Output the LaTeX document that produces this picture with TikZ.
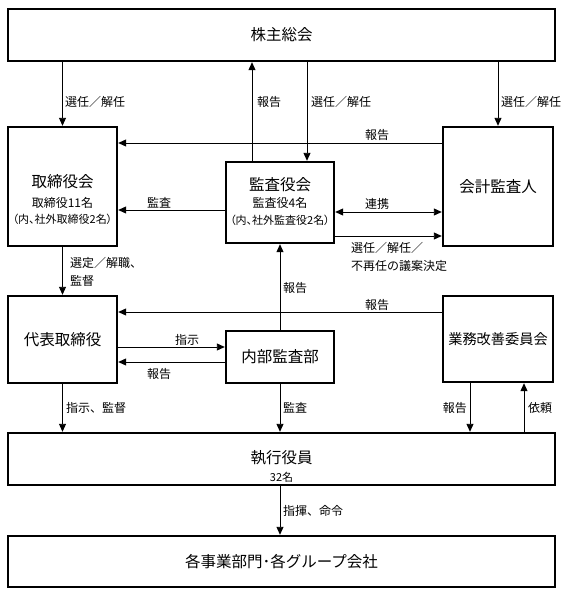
\documentclass[tikz,border=0pt]{standalone}
\usepackage{fontspec}
\setmainfont{Noto Sans CJK JP}
\newfontfamily\jpp{Noto Sans CJK JP}[RawFeature=+palt]
\usetikzlibrary{arrows.meta,calc}
\begin{document}
\begin{tikzpicture}[x=1pt,y=-1pt,
  box/.style={draw, line width=2.4pt, inner sep=0pt, font=\fontsize{15.5}{18}\selectfont},
  big/.style={inner sep=0pt, font=\fontsize{15.5}{18}\selectfont},
  sub/.style={inner sep=0pt, font=\fontsize{12}{14}\selectfont},
  paren/.style={inner sep=0pt, font=\fontsize{11}{13}\selectfont\jpp},
  small/.style={inner sep=0pt, font=\fontsize{12}{14}\selectfont},
  arr/.style={line width=0.9pt, -{Triangle[length=8pt,width=7pt]}},
  dbl/.style={line width=0.9pt, {Triangle[length=8pt,width=7pt]}-{Triangle[length=8pt,width=7pt]}}]
\useasboundingbox (0,0) rectangle (568,595);

% boxes
\node[box, minimum width=547pt, minimum height=52pt] (top) at (281.5,35) {株主総会};
\node[box, minimum width=109pt, minimum height=119pt] (tori) at (62.5,186.5) {};
\node[box, minimum width=108pt, minimum height=81pt] (kansa) at (280,202.5) {};
\node[box, minimum width=110pt, minimum height=119pt] (kaikei) at (498,186.5) {会計監査人};
\node[box, minimum width=109pt, minimum height=87pt] (daihyo) at (62.5,339.5) {代表取締役};
\node[box, minimum width=108pt, minimum height=52pt] (naibu) at (280,357) {内部監査部};
\node[box, minimum width=110pt, minimum height=86pt, font=\fontsize{14.2}{16}\selectfont] (gyomu) at (498,339) {業務改善委員会};
\node[box, minimum width=547pt, minimum height=52pt] (shikko) at (281.5,459) {};
\node[box, minimum width=547pt, minimum height=51pt] (bottom) at (281.5,561.5) {各事業部門･各グループ会社};

% box texts
\node[big] (toriT) at (62.5,182) {取締役会};
\node[sub] (toriS1) at (62.5,203) {取締役11名};
\node[paren] (toriS2) at (62.5,219.5) {（内、社外取締役2名）};
\node[big] (kansaT) at (280,185) {監査役会};
\node[sub] (kansaS1) at (280,203) {監査役4名};
\node[paren] (kansaS2) at (280,220) {（内、社外監査役2名）};
\node[big] (shikkoT) at (281.5,458) {執行役員};
\node[small, font=\fontsize{11}{13}\selectfont] (shikkoS) at (281.5,477) {32名};

% top arrows
\coordinate (k1) at ([xshift=-28pt]kansa.north);
\coordinate (k2) at ([xshift=27pt]kansa.north);
\draw[arr] (top.south -| tori) -- (tori.north);
\draw[arr] (k1) -- (top.south -| k1);
\draw[arr] (top.south -| k2) -- (k2);
\draw[arr] (top.south -| kaikei) -- (kaikei.north);
\node[small, anchor=west] (l1) at (65,102) {選任／解任};
\node[small, anchor=west] (l2) at (257,102) {報告};
\node[small, anchor=west] (l3) at (311,102) {選任／解任};
\node[small, anchor=west] (l4) at (501,102) {選任／解任};

% middle horizontal arrows
\draw[arr] (kaikei.west |- 0,143) -- (tori.east |- 0,143);
\node[small] (l5) at (377,135) {報告};
\draw[arr] (kansa.west |- 0,210) -- (tori.east |- 0,210);
\node[small] (l6) at (159,203) {監査};
\draw[dbl] (kansa.east |- 0,212) -- (kaikei.west |- 0,212);
\node[small] (l7) at (377,204) {連携};
\draw[arr] (kansa.east |- 0,236) -- (kaikei.west |- 0,236);
\node[small, anchor=west] (l8) at (351,248) {選任／解任／};
\node[small, anchor=west] (l9) at (351,266) {不再任の議案決定};

\draw[arr] (tori.south) -- (daihyo.north);
\node[small, anchor=west] (l10) at (70,263) {選定／解職、};
\node[small, anchor=west] (l11) at (70,281) {監督};

\draw[arr] (naibu.north) -- (kansa.south);
\node[small, anchor=west] (l12) at (283,288) {報告};

\draw[arr] (gyomu.west |- 0,312) -- (daihyo.east |- 0,312);
\node[small] (l13) at (377,305) {報告};
\draw[arr] (daihyo.east |- 0,347) -- (naibu.west |- 0,347);
\node[small] (l14) at (187,340) {指示};
\draw[arr] (naibu.west |- 0,362) -- (daihyo.east |- 0,362);
\node[small] (l15) at (159,374) {報告};

% lower arrows
\draw[arr] (daihyo.south) -- (shikko.north -| daihyo);
\node[small, anchor=west] (l16) at (66,408) {指示、監督};
\draw[arr] (naibu.south) -- (shikko.north -| naibu);
\node[small, anchor=west] (l17) at (283,408) {監査};
\coordinate (g1) at ([xshift=-28pt]gyomu.south);
\coordinate (g2) at ([xshift=26pt]gyomu.south);
\draw[arr] (g1) -- (shikko.north -| g1);
\node[small, anchor=east] (l18) at (467,408) {報告};
\draw[arr] (shikko.north -| g2) -- (g2);
\node[small, anchor=west] (l19) at (528,408) {依頼};
\draw[arr] (shikko.south -| naibu) -- (bottom.north -| naibu);
\node[small, anchor=west] (l20) at (283,511) {指揮、命令};
\end{tikzpicture}
\end{document}
